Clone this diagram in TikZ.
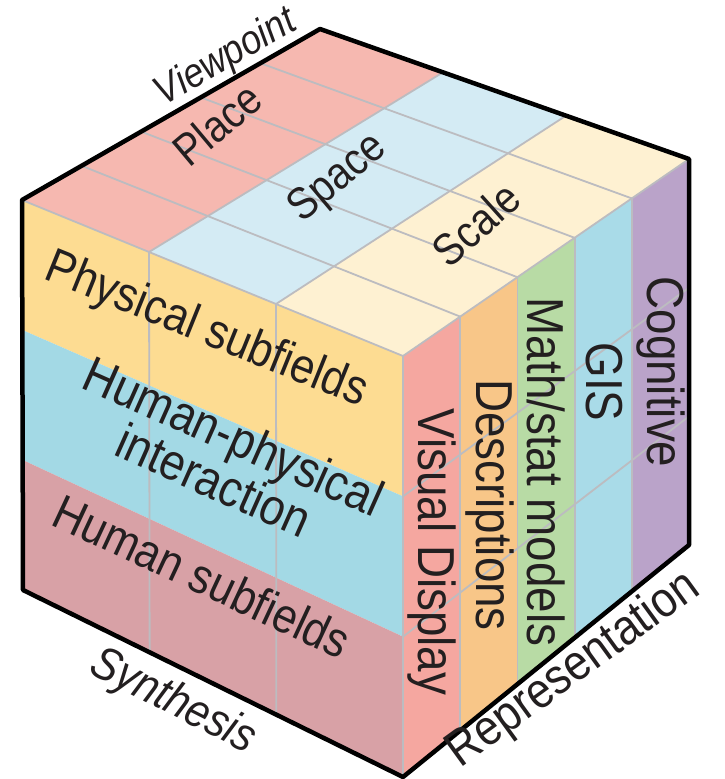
\documentclass[tikz,border=0pt]{standalone}
\usepackage{fontspec}
\setmainfont{Liberation Sans}[FakeStretch=0.88]
\usetikzlibrary{calc}

\definecolor{placepink}{HTML}{F6B8B0}
\definecolor{spaceblue}{HTML}{D4EBF4}
\definecolor{scalecream}{HTML}{FEF1D2}
\definecolor{physyellow}{HTML}{FDDC92}
\definecolor{interblue}{HTML}{A3D9E5}
\definecolor{humanpink}{HTML}{D8A1A6}
\definecolor{vispink}{HTML}{F5A7A0}
\definecolor{descorange}{HTML}{F8C688}
\definecolor{mathgreen}{HTML}{B8DBA5}
\definecolor{gisblue}{HTML}{A9DBE8}
\definecolor{cogpurple}{HTML}{BAA3C9}
\definecolor{gridgray}{HTML}{BCBCC0}
\definecolor{inkblack}{HTML}{231F20}

\begin{document}
\begin{tikzpicture}[x=1pt,y=-1pt,
    grid/.style={draw=gridgray,line width=1.8pt},
    rim/.style={draw=black,line width=4.5pt,line join=round},
    lab/.style={font=\fontsize{49}{46}\selectfont,text=inkblack,
                inner sep=0pt,align=center},
    top/.style={lab,font=\fontsize{45}{46}\selectfont},
    strip/.style={lab,rotate=-90,font=\fontsize{52}{52}\selectfont},
    axis/.style={font=\fontsize{47}{46}\selectfont\itshape,text=inkblack,
                 inner sep=0pt},
]
\useasboundingbox (0,0) rectangle (725,779);

% corners of the cube
\coordinate (A) at (22,200);   % left top
\coordinate (B) at (320,29);   % back top
\coordinate (C) at (689,159);  % right top
\coordinate (D) at (403,356);  % near top
\coordinate (E) at (23,590);   % left bottom
\coordinate (F) at (403,777);  % near bottom
\coordinate (G) at (689,545);  % right bottom

% top face: viewpoint bands
\fill[placepink] (A) -- (B) -- ($(B)!1/3!(C)$) -- ($(A)!1/3!(D)$) -- cycle;
\fill[spaceblue] ($(A)!1/3!(D)$) -- ($(B)!1/3!(C)$) -- ($(B)!2/3!(C)$)
                 -- ($(A)!2/3!(D)$) -- cycle;
\fill[scalecream] ($(A)!2/3!(D)$) -- ($(B)!2/3!(C)$) -- (C) -- (D) -- cycle;

% left face: synthesis bands
\fill[physyellow] (A) -- (D) -- ($(D)!1/3!(F)$) -- ($(A)!1/3!(E)$) -- cycle;
\fill[interblue] ($(A)!1/3!(E)$) -- ($(D)!1/3!(F)$) -- ($(D)!2/3!(F)$)
                 -- ($(A)!2/3!(E)$) -- cycle;
\fill[humanpink] ($(A)!2/3!(E)$) -- ($(D)!2/3!(F)$) -- (F) -- (E) -- cycle;

% right face: representation strips
\foreach \a/\b/\col in {0/0.2/vispink,0.2/0.4/descorange,0.4/0.6/mathgreen,
                        0.6/0.8/gisblue,0.8/1/cogpurple}
  \fill[\col] ($(D)!\a!(C)$) -- ($(D)!\b!(C)$) -- ($(F)!\b!(G)$)
              -- ($(F)!\a!(G)$) -- cycle;

% grid lines
\foreach \t in {0.2,0.4,0.6,0.8} {
  \draw[grid] ($(A)!\t!(B)$) -- ($(D)!\t!(C)$);
  \draw[grid] ($(D)!\t!(C)$) -- ($(F)!\t!(G)$);
}
\foreach \w in {1/3,2/3} {
  \draw[grid] ($(A)!\w!(D)$) -- ($(B)!\w!(C)$);
  \draw[grid] ($(A)!\w!(D)$) -- ($(E)!\w!(F)$);
  \draw[grid] ($(D)!\w!(F)$) -- ($(C)!\w!(G)$);
}
\draw[grid] (A) -- (D) -- (C) (D) -- (F);

% outline
\draw[rim] (A) -- (B) -- (C) -- (G) -- (F) -- (E) -- cycle;

% top face labels
\node[top,rotate=40] (place) at (217,124) {Place};
\node[top,rotate=40] (space) at (338,179) {Space};
\node[top,rotate=42] (scale) at (476,224) {Scale};

% left face labels
\node[lab,rotate=-22] (phys)  at (206,331) {Physical subfields};
\node[lab,rotate=-24,font=\fontsize{51}{46}\selectfont]
     (inter) at (224,458) {Human-physical\\interaction};
\node[lab,rotate=-25] (human) at (202,576) {Human subfields};

% right face labels
\node[strip] (visual)   at (432,552) {Visual Display};
\node[strip] (descr)    at (490,505) {Descriptions};
\node[strip] (mathstat) at (546,472) {Math/stat models};
\node[strip] (gis)      at (604,382) {GIS};
\node[strip] (cogn)     at (661,372) {Cognitive};

% axis names
\node[axis,rotate=30,font=\fontsize{41}{40}\selectfont\itshape]
     (viewpt) at (226,58) {Viewpoint};
\node[axis,rotate=-27] (synth) at (173,702) {Synthesis};
\node[lab,rotate=36,font=\fontsize{50}{50}\selectfont]
     (repr) at (574,670) {Representation};

\end{tikzpicture}
\end{document}
